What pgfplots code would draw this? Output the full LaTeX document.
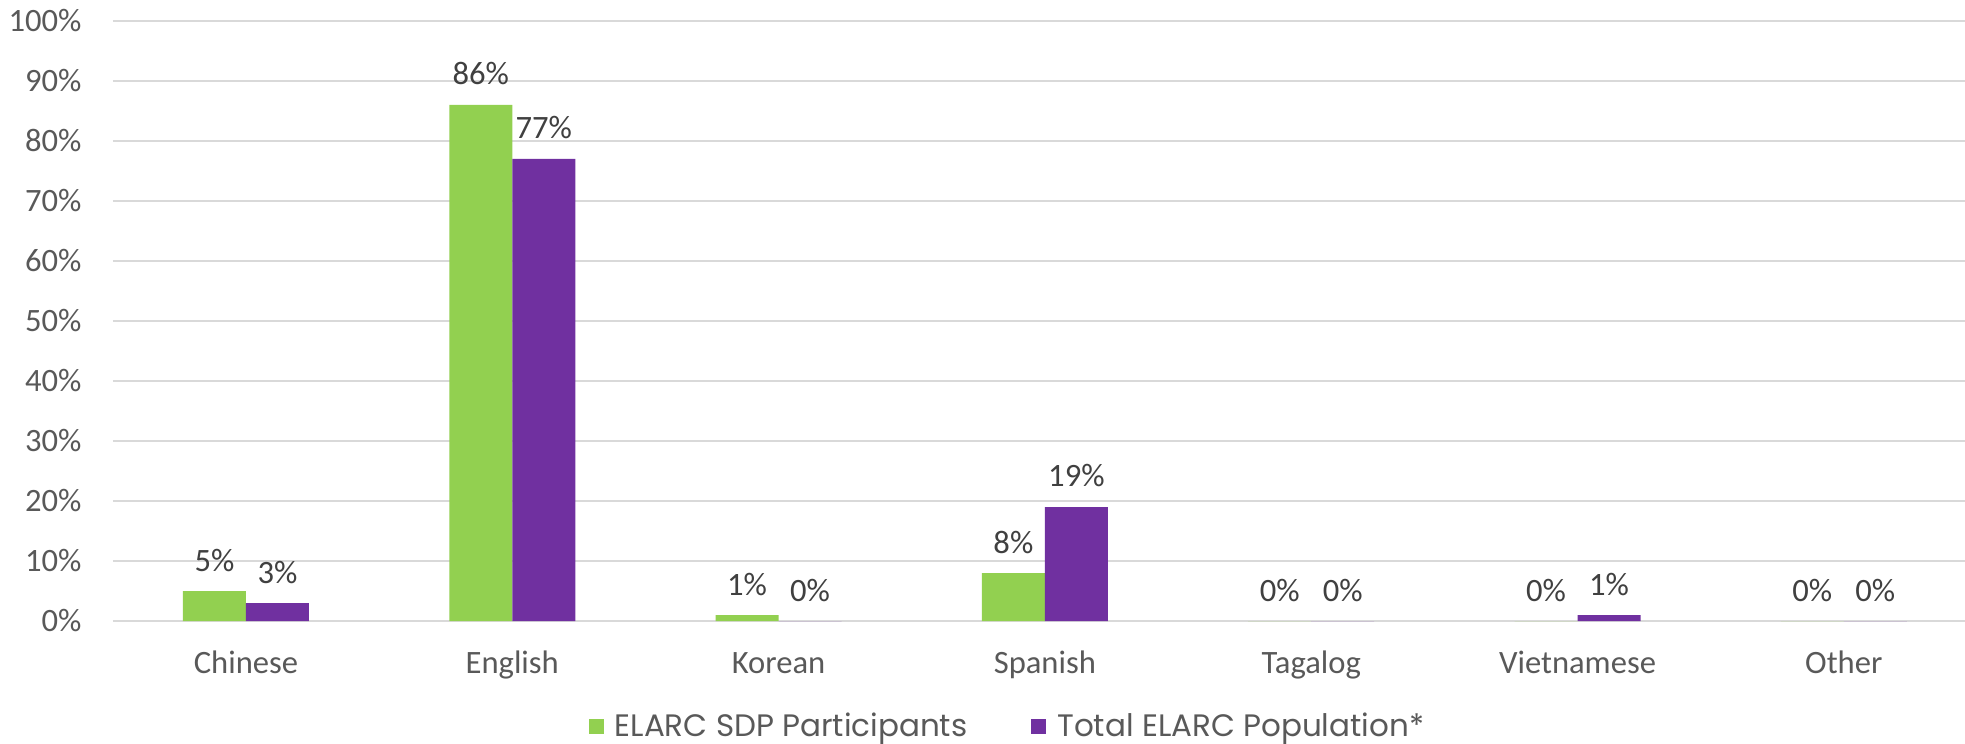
\documentclass[border=0pt]{standalone}
\usepackage{pgfplots}
\pgfplotsset{compat=1.18}
\usepackage{fontspec}
\setmainfont{Carlito}
\newfontfamily\legfont{Poppins}
\definecolor{cgreen}{HTML}{92D050}
\definecolor{cpurple}{HTML}{7030A0}
\definecolor{ctick}{HTML}{595959}
\definecolor{clab}{HTML}{404040}
\definecolor{cgrid}{HTML}{D9D9D9}
\begin{document}
\begin{tikzpicture}
\path[use as bounding box] (-56.4pt,-61.5pt) rectangle (926.1pt,310.5pt);
\begin{axis}[
  at={(0pt,0pt)}, anchor=south west,
  scale only axis,
  width=926.1pt, height=300pt,
  ybar=0pt, bar width=31.5pt,
  xmin=-0.5, xmax=6.455,
  ymin=0, ymax=100,
  enlarge x limits=false,
  axis line style={draw=none},
  major tick length=0pt,
  xtick={0,1,2,3,4,5,6},
  xticklabels={Chinese,English,Korean,Spanish,Tagalog,Vietnamese,Other},
  ytick={0,10,...,100},
  yticklabel={\pgfmathprintnumber{\tick}\%},
  /pgf/number format/assume math mode=true,
  /pgf/number format/fixed, /pgf/number format/precision=0,
  ymajorgrids,
  major grid style={draw=cgrid, line width=0.8pt},
  tick label style={font=\fontsize{16.3}{19}\selectfont, text=ctick},
  yticklabel style={anchor=east, inner sep=0pt, xshift=-15.5pt},
  xticklabel style={anchor=base, inner sep=0pt, yshift=-26pt},
  nodes near coords={\pgfmathprintnumber{\pgfplotspointmeta}\%},
  every node near coord/.append style={font=\fontsize{16.3}{19}\selectfont, text=clab, anchor=base, inner sep=0pt, yshift=10pt},
  legend columns=2,
  legend style={at={(0.4825,-0.175)}, anchor=center, draw=none, fill=none,
    font=\legfont\fontsize{15.5}{18}\selectfont, text=ctick,
    nodes={inner sep=0pt},
    /tikz/every odd column/.append style={column sep=5.5pt},
    /tikz/every even column/.append style={column sep=32pt}},
  legend image code/.code={\fill[#1] (0pt,-3.75pt) rectangle (7.5pt,3.75pt);},
]
\addplot[fill=cgreen, draw=none] coordinates {(0,5) (1,86) (2,1) (3,8) (4,0) (5,0) (6,0)};
\addplot[fill=cpurple, draw=none] coordinates {(0,3) (1,77) (2,0) (3,19) (4,0) (5,1) (6,0)};
\legend{ELARC SDP Participants, Total ELARC Population*}
\end{axis}
\end{tikzpicture}
\end{document}
